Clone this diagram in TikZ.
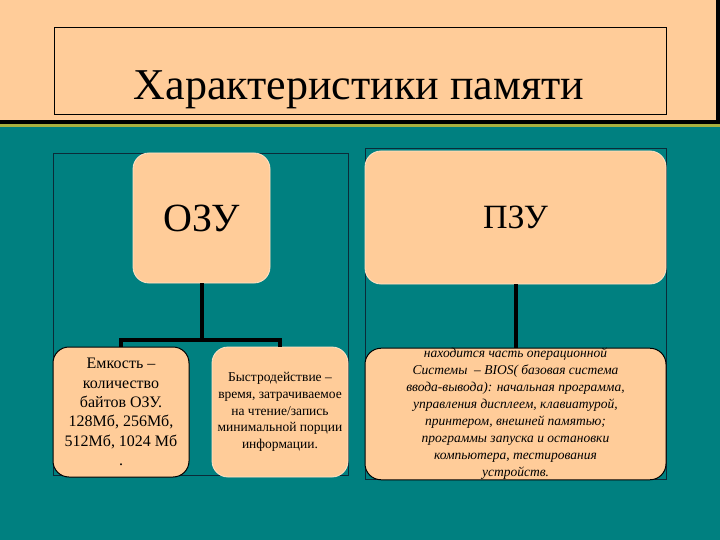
\documentclass[tikz,border=0pt]{standalone}
\usepackage{fontspec}
\setmainfont{Liberation Serif}
\usetikzlibrary{positioning}
\definecolor{peach}{HTML}{FFCC99}
\definecolor{seateal}{HTML}{008080}
\definecolor{framedark}{HTML}{0B2B38}
\definecolor{stripe}{HTML}{A8B040}

\begin{document}
\begin{tikzpicture}[
      x=1pt, y=-1pt,
      block/.style={
          rectangle,
          draw=peach!55!white,
          line width=0.8pt,
          rounded corners=16pt,
          align=center,
          fill=peach,
          inner sep=0pt
        },
      topblock/.style={
          block,
          minimum height=131pt
        },
      leafblock/.style={
          block,
          minimum width=136pt,
          minimum height=130pt
        },
      darkedge/.style={
          draw=black,
          line width=1pt
        },
      conn/.style={
          line width=4pt,
          black
        },
      frame/.style={
          draw=framedark,
          line width=0.8pt
        }
    ]

    % Background
    \useasboundingbox (0,0) rectangle (720,540);
    \fill[seateal] (0,0) rectangle (720,540);
    \fill[stripe] (0,124) rectangle (720,127.5);
    \fill[black] (0,0) rectangle (720,124);
    \fill[peach] (0,0) rectangle (716,120);

    % Title
    \node[draw=black, line width=0.6pt, minimum width=612pt, minimum height=87pt,
      inner sep=0pt] (titlebox) at (360.5,70.5) {};
    \node[anchor=base, font=\fontsize{44}{50}\selectfont] (title) at (359,100)
      {Характеристики памяти};

    % Frames
    \node[frame, minimum width=295pt, minimum height=322pt, inner sep=0pt] (leftframe) at (200.5,314) {};
    \node[frame, minimum width=301pt, minimum height=331pt, inner sep=0pt] (rightframe) at (515.5,313.5) {};

    % Top level
    \node[topblock, minimum width=137pt, minimum height=130pt,
      font=\fontsize{40}{44}\selectfont] (ozu) at (201.5,218) {ОЗУ};
    \node[topblock, minimum width=301pt, minimum height=133pt,
      font=\fontsize{34}{40}\selectfont] (pzu) at (515.5,217.5) {ПЗУ};

    % Branch 1: ОЗУ
    \node[leafblock, darkedge, font=\fontsize{16}{19.3}\selectfont] (emk) at (121,412)
      {Емкость –\\количество\\байтов ОЗУ.\\128Мб, 256Мб,\\512Мб, 1024 Мб\\.};
    \node[leafblock, font=\fontsize{13.5}{16.8}\selectfont] (speed) at (280,412)
      {Быстродействие –\\время, затрачиваемое\\на чтение/запись\\минимальной порции\\информации.};

    % Branch 2: ПЗУ
    \node[block, darkedge, minimum width=301pt, minimum height=130pt,
      font=\fontsize{13.5}{17}\selectfont\itshape] (bios) at (515.5,414)
      {находится часть операционной\\Системы \ – BIOS( базовая система\\ввода-вывода): начальная программа,\\управления дисплеем, клавиатурой,\\принтером, внешней памятью;\\программы запуска и остановки\\компьютера, тестирования\\устройств.};

    % Connectors
    \coordinate (bar) at (201.5,340);
    \draw[conn] (ozu.south) -- (bar);
    \draw[conn] (emk.north) |- (bar) -| (speed.north);
    \draw[conn] (pzu.south) -- (bios.north);
  \end{tikzpicture}
\end{document}
